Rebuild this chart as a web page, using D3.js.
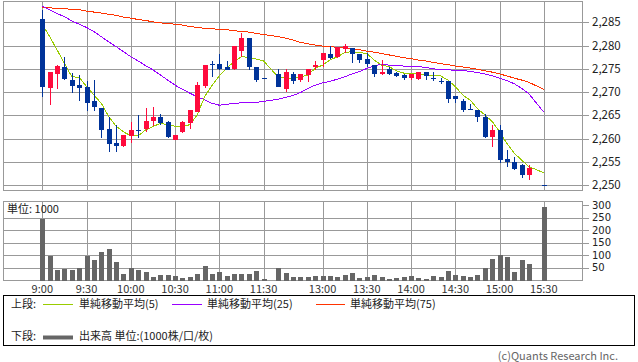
<!DOCTYPE html>
<html>
  <head>
    <meta charset="utf-8">
    <script src="https://cdn.jsdelivr.net/npm/d3@7"></script>
    <style>
      body { margin: 0; background: #fff; }
      text { font-family: "Noto Sans CJK JP", "Noto Sans", sans-serif; }
      .vol-label { font-family: "DejaVu Sans", sans-serif; }
    </style>
  </head>
  <body>
    <div id="chart"></div>
    <script>
// 5-minute candles, 9:00 .. 15:30 (slot 31 = lunch gap, slot 67 = pre-close, both empty)
var opens = [2285.7,2271.0,2273.8,2275.5,2272.7,2271.6,2271.1,2268.2,2266.7,2262.0,
  2259.0,2258.4,2260.6,2261.9,2262.2,2263.8,2264.6,2263.5,2259.9,2261.4,
  2263.4,2265.9,2271.4,2276.1,2276.0,2275.5,2275.0,2278.8,2281.6,2275.5,
  2273.0,null,2274.0,2270.7,2274.0,2272.8,2273.8,2275.4,2276.9,2278.2,
  2277.5,2279.4,2279.4,2278.1,2277.1,2275.9,2273.9,2275.0,2274.1,2273.6,
  2272.9,2272.9,2274.4,2273.0,2272.5,2272.3,2269.1,2268.0,2266.4,2266.1,
  2264.6,2260.3,2261.9,2255.6,2255.0,2254.3,2252.2,null,2250.1];
var highs = [2287.6,2274.4,2275.9,2277.6,2274.1,2273.7,2272.3,2272.6,2266.7,2264.6,
  2263.0,2260.8,2263.5,2265.0,2266.6,2266.9,2265.4,2263.9,2260.9,2263.9,
  2266.1,2272.2,2275.9,2276.7,2278.2,2276.6,2280.0,2282.7,2281.6,2275.5,
  2273.0,null,2275.0,2275.0,2274.4,2274.0,2275.0,2276.6,2278.4,2280.0,
  2279.6,2280.4,2279.4,2278.1,2278.4,2275.9,2276.9,2275.5,2274.4,2273.8,
  2273.8,2274.4,2274.4,2274.4,2273.0,2272.3,2269.1,2268.5,2267.4,2266.1,
  2265.4,2263.0,2263.0,2257.6,2256.0,2254.6,2254.4,null,2250.1];
var lows = [2269.1,2267.5,2271.0,2272.9,2270.0,2268.4,2266.1,2266.1,2260.3,2257.4,
  2257.4,2258.4,2259.2,2260.3,2261.7,2262.9,2263.1,2260.3,2259.9,2261.4,
  2262.3,2265.9,2271.1,2273.4,2275.0,2274.9,2275.0,2277.7,2275.0,2272.4,
  2273.0,null,2271.3,2270.3,2272.0,2272.4,2272.4,2274.9,2275.7,2277.4,
  2277.5,2278.6,2276.5,2276.5,2275.7,2273.4,2273.9,2273.9,2273.4,2272.9,
  2272.9,2272.9,2272.9,2272.7,2272.0,2267.8,2267.8,2266.0,2266.4,2263.7,
  2260.3,2258.4,2255.0,2254.1,2253.4,2251.7,2251.3,null,2250.1];
var closes = [2271.0,2274.4,2275.6,2272.9,2271.4,2271.0,2267.6,2267.0,2262.0,2258.8,
  2258.4,2260.8,2261.9,2261.9,2263.9,2264.6,2263.4,2260.3,2260.9,2263.5,
  2266.1,2271.6,2275.9,2276.1,2275.0,2274.9,2280.0,2281.6,2275.4,2272.7,
  2273.0,null,2271.3,2274.4,2272.4,2274.0,2275.0,2275.9,2278.4,2277.4,
  2279.6,2280.0,2278.1,2276.9,2276.0,2273.9,2274.4,2273.9,2273.4,2272.9,
  2273.8,2274.4,2273.6,2273.0,2272.5,2268.4,2268.4,2266.0,2266.4,2264.5,
  2260.3,2261.9,2255.5,2254.9,2253.4,2252.2,2253.7,null,2250.1];
var volumes = [244,97,40,45,40,49,97,80,111,125,
  72,24,48,40,33,13,20,20,16,9,
  13,24,57,24,32,17,24,24,24,36,
  3,null,48,28,13,13,13,16,16,16,
  12,20,28,9,12,20,13,4,9,13,
  16,8,4,16,13,36,20,16,12,20,
  49,85,100,92,32,80,64,null,291];
var ma5 = [2284.6,2281.9,2279.1,2276.2,2273.3,2273.2,2271.2,2269.4,2267.6,2264.8,
  2262.7,2261.5,2260.6,2260.6,2261.9,2262.6,2263.3,2263.0,2262.7,2262.7,
  2263.0,2265.1,2269.0,2271.4,2273.5,2275.1,2276.6,2277.6,2277.5,2277.1,
  2276.7,null,2273.2,2273.0,2273.0,2273.2,2273.7,2275.1,2275.8,2276.9,
  2277.6,2278.5,2278.7,2278.5,2278.3,2276.9,2275.8,2275.5,2274.6,2274.1,
  2274.0,2273.9,2273.7,2273.5,2273.5,2272.6,2271.2,2269.4,2268.3,2266.5,
  2265.1,2263.7,2261.5,2259.0,2256.9,2255.4,2254.0,null,2252.7];
var ma25 = [2288.5,2287.7,2286.9,2286.2,2285.3,2284.6,2283.9,2283.0,2281.9,2280.8,
  2279.8,2278.7,2277.6,2276.7,2275.7,2274.8,2273.7,2272.6,2271.5,2270.6,
  2269.8,2269.0,2268.4,2267.6,2267.2,2267.4,2267.6,2267.7,2267.8,2267.8,
  2268.0,null,2268.5,2268.9,2269.3,2269.9,2270.8,2271.5,2272.0,2272.3,
  2272.8,2273.3,2273.9,2274.4,2275.1,2275.6,2276.0,2275.8,2275.8,2275.6,
  2275.5,2275.5,2275.3,2275.0,2274.9,2274.8,2274.7,2274.6,2274.5,2274.2,
  2273.9,2273.5,2273.0,2272.5,2271.8,2270.8,2269.6,null,2265.7];
var ma75 = [2288.2,2288.1,2288.0,2287.9,2287.8,2287.7,2287.4,2287.2,2287.0,2286.7,
  2286.5,2286.1,2285.9,2285.6,2285.4,2285.1,2284.9,2284.7,2284.6,2284.4,
  2284.1,2283.9,2283.7,2283.6,2283.5,2283.4,2283.2,2283.0,2282.9,2282.6,
  2282.4,null,2281.9,2281.6,2281.2,2280.7,2280.4,2280.1,2279.9,2279.8,
  2279.6,2279.5,2279.3,2279.1,2278.8,2278.6,2278.3,2278.0,2277.7,2277.4,
  2277.2,2276.9,2276.7,2276.4,2276.1,2275.9,2275.6,2275.4,2275.2,2274.9,
  2274.6,2274.3,2273.9,2273.5,2273.0,2272.6,2272.1,null,2270.6];

var timeLabels = ["9:00","9:30","10:00","10:30","11:00","11:30","13:00","13:30","14:00","14:30","15:00","15:30"];
var timeSlots = [0,6,12,18,24,30,38,44,50,56,62,68];
var priceTicks = [2250,2255,2260,2265,2270,2275,2280,2285];
var volTicks = [50,100,150,200,250,300];

var width = 638;
var height = 362;

var left = 3.5, right = 582.5;
var top1 = 1.5, bottom1 = 190.5;
var top2 = 201.5, bottom2 = 280.5;

var gridColor = "#999";
var upColor = "#ff0a3c";
var downColor = "#003399";

var svg = d3.select("#chart").append("svg")
  .attr("width", width)
  .attr("height", height)
  .style("display", "block");

var x = d3.scaleLinear().domain([0, 68]).range([42.3, 543.8]);
var y = d3.scaleLinear().domain([2250, 2285]).range([185.3, 22.3]);
var yv = d3.scaleLinear().domain([0, 300]).range([280, 205]);

function px(v) { return Math.round(v) + 0.5; }

// grids
function grid(yTop, yBot, hLines, scale) {
  var g = svg.append("g")
    .attr("stroke", gridColor)
    .attr("shape-rendering", "crispEdges");
  g.selectAll(".v").data(timeSlots).join("line")
    .attr("x1", d => px(x(d))).attr("x2", d => px(x(d)))
    .attr("y1", yTop).attr("y2", yBot);
  g.selectAll(".h").data(hLines).join("line")
    .attr("x1", left).attr("x2", right)
    .attr("y1", d => px(scale(d))).attr("y2", d => px(scale(d)));
  g.append("rect")
    .attr("x", left).attr("y", yTop)
    .attr("width", right - left).attr("height", yBot - yTop)
    .attr("fill", "none");
}
grid(top1, bottom1, priceTicks, y);
grid(top2, bottom2, volTicks.filter(d => d < 300), yv);

// right axes
function rightAxis(ticks, scale, fmt, size, cls) {
  var g = svg.append("g");
  g.selectAll("line").data(ticks).join("line")
    .attr("x1", right).attr("x2", right + 6)
    .attr("y1", d => px(scale(d))).attr("y2", d => px(scale(d)))
    .attr("stroke", gridColor)
    .attr("shape-rendering", "crispEdges");
  g.selectAll("text").data(ticks).join("text")
    .attr("class", cls)
    .attr("x", 592)
    .attr("y", d => scale(d))
    .attr("dy", "0.35em")
    .attr("font-size", size)
    .attr("fill", "#222")
    .text(fmt);
}
rightAxis(priceTicks, y, d3.format(","), 11.5, "price-label");
rightAxis(volTicks, yv, d => d, 10, "vol-label");

// time labels
svg.append("g").selectAll("text").data(timeSlots).join("text")
  .attr("x", d => x(d))
  .attr("y", 289)
  .attr("dy", "0.35em")
  .attr("text-anchor", "middle")
  .attr("font-size", 11)
  .attr("fill", "#333")
  .text((d, i) => timeLabels[i]);

// moving averages
var slots = d3.range(opens.length);
function maLine(vals, color) {
  var pts = slots.filter(i => vals[i] != null);
  svg.append("path")
    .datum(pts)
    .attr("fill", "none")
    .attr("stroke", color)
    .attr("stroke-width", 1)
    .attr("shape-rendering", "crispEdges")
    .attr("d", d3.line().x(i => x(i)).y(i => y(vals[i])));
}
maLine(ma75, "#ff3300");
maLine(ma25, "#9900ff");
maLine(ma5, "#99cc00");

// candles
var bars = slots.filter(i => opens[i] != null);
var candle = svg.append("g")
  .attr("shape-rendering", "crispEdges")
  .selectAll("g").data(bars).join("g")
  .attr("fill", i => closes[i] > opens[i] ? upColor : downColor)
  .attr("stroke", i => closes[i] > opens[i] ? upColor : downColor);

candle.append("line")
  .attr("x1", i => px(x(i))).attr("x2", i => px(x(i)))
  .attr("y1", i => Math.round(y(highs[i])))
  .attr("y2", i => Math.round(y(lows[i])) + 1);

candle.append("rect")
  .attr("stroke", "none")
  .attr("x", i => Math.round(x(i)) - 2)
  .attr("width", 5)
  .attr("y", i => Math.round(y(Math.max(opens[i], closes[i]))))
  .attr("height", i => Math.max(1, Math.round(Math.abs(y(opens[i]) - y(closes[i])))));

// volume
svg.append("g")
  .attr("fill", "#666")
  .attr("shape-rendering", "crispEdges")
  .selectAll("rect").data(slots.filter(i => volumes[i] != null)).join("rect")
  .attr("x", i => Math.round(x(i)) - 2)
  .attr("width", 5)
  .attr("y", i => Math.round(yv(volumes[i])))
  .attr("height", i => 280 - Math.round(yv(volumes[i])) + 0.5);

svg.append("text")
  .attr("x", 7)
  .attr("y", 209)
  .attr("dy", "0.35em")
  .attr("font-size", 11)
  .attr("fill", "#222")
  .text("単位: 1000");

// legend
svg.append("rect")
  .attr("x", 3.5).attr("y", 295.5)
  .attr("width", 631).attr("height", 50)
  .attr("fill", "none")
  .attr("stroke", "#000")
  .attr("shape-rendering", "crispEdges");

var legendItems = [
  { x0: 43, x1: 73, tx: 79, y: 304, color: "#99cc00", w: 1, label: "単純移動平均(5)" },
  { x0: 172, x1: 202, tx: 207, y: 304, color: "#9900ff", w: 1, label: "単純移動平均(25)" },
  { x0: 316, x1: 345, tx: 350, y: 304, color: "#ff3300", w: 1, label: "単純移動平均(75)" },
  { x0: 43, x1: 73, tx: 79, y: 336.5, color: "#666", w: 4, label: "出来高 単位:(1000株/口/枚)" }
];
var leg = svg.append("g");
leg.selectAll("line").data(legendItems).join("line")
  .attr("x1", d => d.x0).attr("x2", d => d.x1)
  .attr("y1", d => Math.round(d.y) + 0.5).attr("y2", d => Math.round(d.y) + 0.5)
  .attr("stroke", d => d.color)
  .attr("stroke-width", d => d.w);
leg.selectAll("text").data(legendItems).join("text")
  .attr("x", d => d.tx)
  .attr("y", d => d.y)
  .attr("dy", "0.35em")
  .attr("font-size", 11)
  .attr("fill", "#222")
  .text(d => d.label);
leg.selectAll(".sec").data([["上段:", 304], ["下段:", 336.5]]).join("text")
  .attr("x", 11)
  .attr("y", d => d[1])
  .attr("dy", "0.35em")
  .attr("font-size", 11)
  .attr("fill", "#222")
  .text(d => d[0]);

svg.append("text")
  .attr("x", 618)
  .attr("y", 356)
  .attr("dy", "0.35em")
  .attr("text-anchor", "end")
  .attr("font-size", 11)
  .attr("fill", "#666")
  .text("(c)Quants Research Inc.");
    </script>
  </body>
</html>
